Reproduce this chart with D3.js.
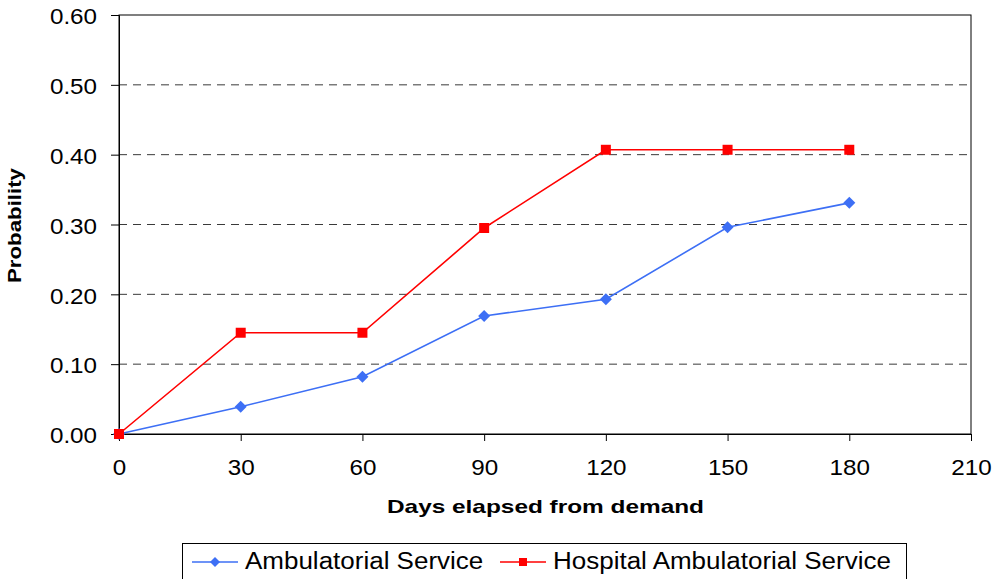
<!DOCTYPE html>
<html>
<head>
<meta charset="utf-8">
<script src="https://cdn.jsdelivr.net/npm/d3@7"></script>
<style>
  body { margin: 0; background: #fff; }
  svg { display: block; font-family: "Liberation Sans", Arial, sans-serif; }
</style>
</head>
<body>
<svg id="chart" width="996" height="579"></svg>
<script>
var days = [0, 30, 60, 90, 120, 150, 180];
var ambulatorial = [0, 0.039, 0.082, 0.169, 0.193, 0.296, 0.331];
var hospital = [0, 0.145, 0.145, 0.295, 0.407, 0.407, 0.407];
var xTicks = [0, 30, 60, 90, 120, 150, 180, 210];
var yTicks = [0, 0.1, 0.2, 0.3, 0.4, 0.5, 0.6];

var svg = d3.select("#chart"),
    margin = {top: 15, right: 25, bottom: 145, left: 119},
    width = +svg.attr("width") - margin.left - margin.right,
    height = +svg.attr("height") - margin.top - margin.bottom,
    g = svg.append("g").attr("transform", "translate(" + margin.left + "," + margin.top + ")");

var x = d3.scaleLinear().domain([0, 210]).range([0, width]);
var y = d3.scaleLinear().domain([0, 0.6]).range([height, 0]);

// the original text is a bit stretched sideways
var stretch = 1.1;

// square diamond (d3's own is taller than wide)
function diamond(r) {
    return "M0," + (-r) + "L" + r + ",0L0," + r + "L" + (-r) + ",0Z";
}
function square(r) {
    return "M" + (-r) + "," + (-r) + "H" + r + "V" + r + "H" + (-r) + "Z";
}

// dashed gridlines
g.append("g")
    .selectAll("line")
    .data(yTicks.filter(function (d) { return d > 0 && d < 0.6; }))
    .enter().append("line")
    .attr("x1", 0)
    .attr("x2", width)
    .attr("y1", function (d) { return y(d); })
    .attr("y2", function (d) { return y(d); })
    .attr("stroke", "#3a3a3a")
    .attr("stroke-dasharray", "8,6")
    .attr("stroke-width", 1);

// frame
g.append("rect")
    .attr("width", width)
    .attr("height", height)
    .attr("fill", "none")
    .attr("stroke", "#000")
    .attr("stroke-width", 1);

var xAxis = g.append("g")
    .attr("transform", "translate(0," + height + ")")
    .call(d3.axisBottom(x).tickValues(xTicks).tickSize(7).tickFormat(d3.format("d")));

var yAxis = g.append("g")
    .call(d3.axisLeft(y).tickValues(yTicks).tickSize(8).tickFormat(d3.format(".2f")));

[xAxis, yAxis].forEach(function (a) {
    a.selectAll("text").attr("font-size", 22).attr("fill", "#000")
        .attr("font-family", "'Liberation Sans', Arial, sans-serif")
        .attr("transform", "scale(" + stretch + ",1)");
    a.selectAll("line").attr("stroke", "#000");
    a.select(".domain").attr("stroke", "#000");
});
xAxis.selectAll("text").attr("y", 25);
yAxis.selectAll("text").attr("x", -22 / stretch).attr("dy", "0.4em");

var series = [
    {name: "Ambulatorial Service", values: ambulatorial, color: "#3d6ff5", shape: diamond, r: 6, lr: 5},
    {name: "Hospital Ambulatorial Service", values: hospital, color: "#ff0000", shape: square, r: 5, lr: 4}
];

var line = d3.line()
    .x(function (d) { return x(d[0]); })
    .y(function (d) { return y(d[1]); });

series.forEach(function (s) {
    var pts = days.map(function (d, i) { return [d, s.values[i]]; });
    g.append("path")
        .datum(pts)
        .attr("fill", "none")
        .attr("stroke", s.color)
        .attr("stroke-width", 1.6)
        .attr("d", line);
    g.append("g")
        .selectAll("path")
        .data(pts)
        .enter().append("path")
        .attr("transform", function (d) { return "translate(" + x(d[0]) + "," + y(d[1]) + ")"; })
        .attr("d", s.shape(s.r))
        .attr("fill", s.color);
});

// axis titles
svg.append("text")
    .attr("x", 387)
    .attr("y", 513)
    .attr("font-size", 19)
    .attr("font-weight", "bold")
    .attr("textLength", 317)
    .attr("lengthAdjust", "spacingAndGlyphs")
    .text("Days elapsed from demand");

svg.append("text")
    .attr("transform", "translate(21,283) rotate(-90)")
    .attr("font-size", 18)
    .attr("font-weight", "bold")
    .attr("textLength", 115)
    .attr("lengthAdjust", "spacingAndGlyphs")
    .text("Probability");

// legend
var legend = svg.append("g");
legend.append("rect")
    .attr("x", 182.5)
    .attr("y", 543.5)
    .attr("width", 724)
    .attr("height", 45)
    .attr("fill", "#fff")
    .attr("stroke", "#000");

var legendX = [192, 500];
series.forEach(function (s, i) {
    var lg = legend.append("g").attr("transform", "translate(" + legendX[i] + ",562)");
    lg.append("line").attr("x1", 0).attr("x2", 46).attr("stroke", s.color).attr("stroke-width", 1.6);
    lg.append("path")
        .attr("transform", "translate(23,0)")
        .attr("d", s.shape(s.lr))
        .attr("fill", s.color);
    lg.append("text")
        .attr("transform", "translate(53,7) scale(1.13,1)")
        .attr("font-size", 23)
        .text(s.name);
});
</script>
</body>
</html>
